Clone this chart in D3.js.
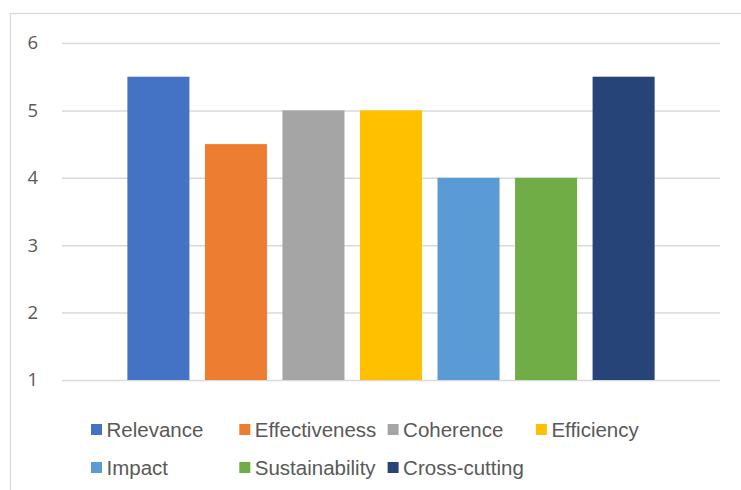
<!DOCTYPE html>
<html>
<head>
<meta charset="utf-8">
<script src="https://cdn.jsdelivr.net/npm/d3@7"></script>
<style>
  body { margin: 0; background: #fff; }
  svg { display: block; }
</style>
</head>
<body>
<svg id="canvas" width="741" height="490"></svg>
<script>
// one category, seven series (Excel clustered column)
var category = ["Rating"];
var series = ["Relevance", "Effectiveness", "Coherence", "Efficiency", "Impact", "Sustainability", "Cross-cutting"];
var values = [5.5, 4.5, 5, 5, 4, 4, 5.5];
var colors = ["#4472C4", "#ED7D31", "#A5A5A5", "#FFC000", "#5B9BD5", "#70AD47", "#264478"];
var yTicks = [1, 2, 3, 4, 5, 6];

var svg = d3.select("#canvas"),
    plotLeft = 62,
    plotRight = 720,
    plotTop = 43,
    plotBottom = 380;

// chart area border (cropped on the right and bottom)
svg.append("rect")
  .attr("x", 10.5)
  .attr("y", 13.5)
  .attr("width", 900)
  .attr("height", 700)
  .style("fill", "#fff")
  .style("stroke", "#d9d9d9")
  .style("stroke-width", 1.3);

var y = d3.scaleLinear()
  .domain([1, 6])
  .range([plotBottom, plotTop]);

var x0 = d3.scaleBand()
  .domain(category)
  .range([plotLeft, plotRight])
  .paddingInner(0)
  .paddingOuter(0.124);

var x1 = d3.scaleBand()
  .domain(series)
  .range([0, x0.bandwidth()])
  .paddingInner(0.2)
  .paddingOuter(0);

// gridlines + tick labels
var yAxis = svg.append("g")
  .attr("transform", "translate(" + plotLeft + ",0)")
  .call(d3.axisLeft(y)
    .tickValues(yTicks)
    .tickFormat(d3.format("d"))
    .tickSize(-(plotRight - plotLeft))
    .tickPadding(24));

yAxis.select(".domain").remove();
yAxis.selectAll(".tick line")
  .style("stroke", "#d9d9d9")
  .style("stroke-width", 1.5);
yAxis.selectAll(".tick text")
  .style("font-family", "'Open Sans', sans-serif")
  .style("font-size", "18.5px")
  .style("fill", "#595959");

// bars
var group = svg.append("g")
  .selectAll("g")
  .data(category)
  .enter()
  .append("g")
  .attr("transform", function(d) { return "translate(" + x0(d) + ",0)"; });

group.selectAll("rect")
  .data(series.map(function(s, i) { return {name: s, value: values[i], color: colors[i]}; }))
  .enter()
  .append("rect")
  .attr("x", function(d) { return x1(d.name); })
  .attr("y", function(d) { return y(d.value); })
  .attr("width", x1.bandwidth())
  .attr("height", function(d) { return y(1) - y(d.value); })
  .style("fill", function(d) { return d.color; });

/*
  Legend: 4 columns, wraps into 2 rows
*/
var legendCols = 4,
    legendX = 91,
    legendColW = 148.3,
    legendY = 430,
    legendRowH = 38;

var legend = svg.append("g")
  .selectAll("g")
  .data(series)
  .enter()
  .append("g")
  .attr("transform", function(d, i) {
    var col = i % legendCols, row = Math.floor(i / legendCols);
    return "translate(" + (legendX + col * legendColW) + "," + (legendY + row * legendRowH) + ")";
  });

legend.append("rect")
  .attr("x", 0)
  .attr("y", -6)
  .attr("width", 11)
  .attr("height", 11)
  .style("fill", function(d, i) { return colors[i]; });

legend.append("text")
  .attr("x", 15.5)
  .attr("y", 7)
  .text(function(d) { return d; })
  .style("font-family", "'Liberation Sans', Arial, sans-serif")
  .style("font-size", "20.5px")
  .style("fill", "#595959");
</script>
</body>
</html>
